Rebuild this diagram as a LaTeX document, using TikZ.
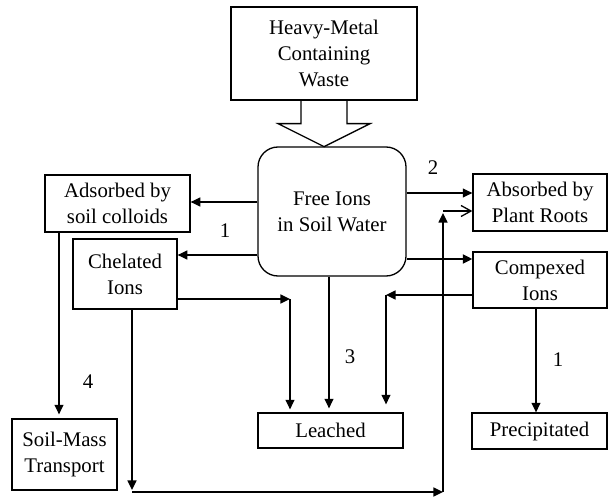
\documentclass[tikz,border=0pt]{standalone}
\usepackage{fontspec}
\setmainfont{Liberation Serif}
\usetikzlibrary{arrows.meta}
\tikzset{
  box/.style={draw,line width=.65pt,align=center,inner sep=0pt},
  arr/.style={line width=.65pt,-{Triangle[length=4.8pt,width=4.5pt]}},
  openarr/.style={line width=.65pt,-{Straight Barb[length=5pt,width=5.5pt]}},
}
\begin{document}
\begin{tikzpicture}[x=.5pt,y=-.5pt,font=\fontsize{10.4}{13}\selectfont]
  \useasboundingbox (0,0) rectangle (608,496);
  % boxes
  \node[box,minimum width=93pt,minimum height=46.5pt] (waste) at (324,53.5) {Heavy-Metal\\Containing\\Waste};
  \node[box,rounded corners=10pt,minimum width=74pt,minimum height=64.5pt] (free) at (332,211.5) {Free Ions\\in Soil Water};
  \node[box,minimum width=72.5pt,minimum height=28.5pt] (colloid) at (117.5,203.5) {Adsorbed by\\soil colloids};
  \node[box,minimum width=52pt,minimum height=35pt] (chelated) at (125,274) {Chelated\\Ions};
  \node[box,minimum width=67pt,minimum height=28.5pt] (roots) at (540,202.5) {Absorbed by\\Plant Roots};
  \node[box,minimum width=67pt,minimum height=28pt] (complexed) at (540,280) {Compexed\\Ions};
  \node[box,minimum width=72.5pt,minimum height=17.5pt] (leached) at (330.5,430.5) {Leached};
  \node[box,minimum width=67.5pt,minimum height=18pt] (precip) at (539.5,431) {Precipitated};
  \node[box,minimum width=52.5pt,minimum height=35.5pt] (soilmass) at (64.5,454.5) {Soil-Mass\\Transport};
  % block arrow from the waste
  \draw[line width=.65pt] (waste.south) ++(-23,0) -- ++(0,23) -- ++(-23,0) -- ++(46,23)
    -- ++(46,-23) -- ++(-23,0) -- ++(0,-23);
  % bends and free ends
  \coordinate (c1) at (290,299);
  \coordinate (c2) at (386,295);
  \coordinate (b1) at (132,492);
  \coordinate (b2) at (443,492);
  \coordinate (b3) at (443,211);
  % connectors
  \draw[arr] (free.west |- 0,202) -- (colloid.east |- 0,202);
  \draw[arr] (free.west |- 0,255) -- (chelated.east |- 0,255);
  \draw[arr] (free.east |- 0,193) -- (roots.west |- 0,193);
  \draw[arr,line width=1pt] (free.east |- 0,259) -- (complexed.west |- 0,259);
  \draw[arr] (free.south -| 329,0) -- ([yshift=2pt]leached.north -| 329,0);
  \draw[arr] (chelated.east |- c1) -- (c1);
  \draw[arr] (c1) -- ([yshift=1.5pt]leached.north -| c1);
  \draw[arr] (complexed.west |- c2) -- (c2);
  \draw[arr] (c2) -- ([yshift=4pt]leached.north -| c2);
  \draw[arr] (complexed.south -| 536,0) -- (precip.north -| 536,0);
  \draw[arr] (colloid.south -| 59,0) -- ([yshift=2pt]soilmass.north -| 59,0);
  \draw[arr] (chelated.south -| b1) -- ([yshift=1pt]b1);
  \draw[arr] (b1) -- (b2);
  \draw[arr] (b2) -- ([yshift=-1pt]b3);
  \draw[openarr] (b3) -- (roots.west |- b3);
  % numbers
  \node (n1) at (225,231) {1};
  \node (n2) at (433,168) {2};
  \node (n3) at (350,357) {3};
  \node (n4) at (88,382) {4};
  \node (n5) at (558,360) {1};
\end{tikzpicture}
\end{document}
